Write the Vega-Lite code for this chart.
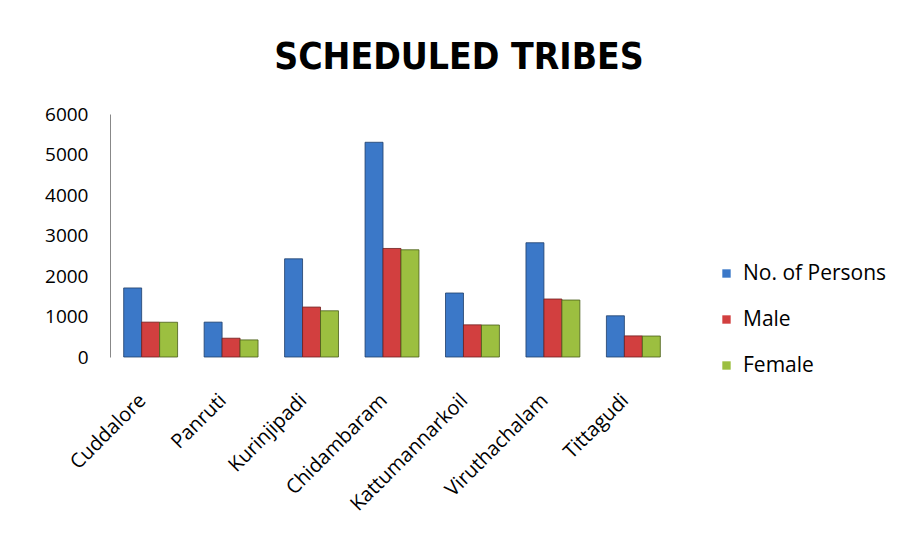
{
  "$schema": "https://vega.github.io/schema/vega-lite/v6.json",
  "width": 564,
  "height": 243,
  "autosize": "none",
  "padding": {"left": 110, "top": 114, "right": 229, "bottom": 189},
  "background": "white",
  "title": {
    "text": "SCHEDULED TRIBES",
    "font": "'DejaVu Sans Condensed', 'Liberation Sans Narrow', Roboto",
    "fontSize": 37,
    "fontWeight": "bold",
    "color": "black",
    "offset": 28,
    "dx": 67
  },
  "data": {
    "values": [
      {"block": "Cuddalore", "series": "No. of Persons", "value": 1705},
      {"block": "Cuddalore", "series": "Male", "value": 861},
      {"block": "Cuddalore", "series": "Female", "value": 858},
      {"block": "Panruti", "series": "No. of Persons", "value": 861},
      {"block": "Panruti", "series": "Male", "value": 464},
      {"block": "Panruti", "series": "Female", "value": 422},
      {"block": "Kurinjipadi", "series": "No. of Persons", "value": 2424},
      {"block": "Kurinjipadi", "series": "Male", "value": 1233},
      {"block": "Kurinjipadi", "series": "Female", "value": 1141},
      {"block": "Chidambaram", "series": "No. of Persons", "value": 5302},
      {"block": "Chidambaram", "series": "Male", "value": 2680},
      {"block": "Chidambaram", "series": "Female", "value": 2647},
      {"block": "Kattumannarkoil", "series": "No. of Persons", "value": 1580},
      {"block": "Kattumannarkoil", "series": "Male", "value": 794},
      {"block": "Kattumannarkoil", "series": "Female", "value": 790},
      {"block": "Viruthachalam", "series": "No. of Persons", "value": 2821},
      {"block": "Viruthachalam", "series": "Male", "value": 1432},
      {"block": "Viruthachalam", "series": "Female", "value": 1407},
      {"block": "Tittagudi", "series": "No. of Persons", "value": 1017},
      {"block": "Tittagudi", "series": "Male", "value": 521},
      {"block": "Tittagudi", "series": "Female", "value": 518}
    ]
  },
  "mark": {"type": "bar", "strokeWidth": 1, "strokeOpacity": 0.8},
  "encoding": {
    "x": {
      "field": "block",
      "type": "nominal",
      "sort": null,
      "scale": {"paddingInner": 0.33, "paddingOuter": 0.17},
      "axis": {
        "title": null,
        "domain": false,
        "ticks": false,
        "labelAngle": -45,
        "labelAlign": "right",
        "labelBaseline": "middle",
        "labelPadding": 40,
        "labelOffset": -8,
        "labelFont": "Open Sans",
        "labelFontSize": 20,
        "labelColor": "black"
      }
    },
    "xOffset": {
      "field": "series",
      "type": "nominal",
      "sort": ["No. of Persons", "Male", "Female"],
      "scale": {"paddingInner": 0, "paddingOuter": 0}
    },
    "y": {
      "field": "value",
      "type": "quantitative",
      "scale": {"domain": [0, 6000]},
      "axis": {
        "title": null,
        "grid": false,
        "ticks": false,
        "tickCount": 6,
        "format": "d",
        "domainColor": "#888888",
        "labelPadding": 22,
        "labelFont": "Open Sans",
        "labelFontSize": 19,
        "labelColor": "black"
      }
    },
    "color": {
      "field": "series",
      "type": "nominal",
      "sort": ["No. of Persons", "Male", "Female"],
      "scale": {
        "domain": ["No. of Persons", "Male", "Female"],
        "range": ["#3b78c8", "#d23f3f", "#9cbf40"]
      },
      "legend": {
        "title": null,
        "orient": "none",
        "legendX": 606,
        "legendY": 149,
        "symbolType": "square",
        "symbolSize": 70,
        "symbolStrokeWidth": 0,
        "labelFont": "Open Sans",
        "labelFontSize": 21,
        "labelColor": "black",
        "rowPadding": 24,
        "labelOffset": 6
      }
    },
    "stroke": {
      "field": "series",
      "type": "nominal",
      "scale": {
        "domain": ["No. of Persons", "Male", "Female"],
        "range": ["#1f3f6a", "#6e1f1f", "#4a5e1a"]
      },
      "legend": null
    }
  },
  "config": {"view": {"stroke": null}}
}
